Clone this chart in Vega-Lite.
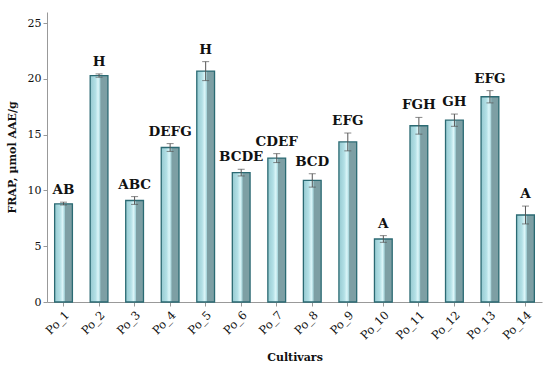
{
  "$schema": "https://vega.github.io/schema/vega-lite/v6.json",
  "width": 495,
  "height": 290,
  "autosize": "none",
  "padding": {"left": 47, "top": 12, "right": 8, "bottom": 69},
  "background": "white",
  "config": {"view": {"stroke": null}, "font": "DejaVu Serif"},
  "data": {
    "values": [
      {"cultivar": "Po_1", "frap": 8.8, "lo": 8.7, "hi": 8.95, "group": "AB"},
      {"cultivar": "Po_2", "frap": 20.3, "lo": 20.15, "hi": 20.45, "group": "H"},
      {"cultivar": "Po_3", "frap": 9.1, "lo": 8.75, "hi": 9.45, "group": "ABC"},
      {"cultivar": "Po_4", "frap": 13.85, "lo": 13.5, "hi": 14.2, "group": "DEFG"},
      {"cultivar": "Po_5", "frap": 20.7, "lo": 19.85, "hi": 21.55, "group": "H"},
      {"cultivar": "Po_6", "frap": 11.6, "lo": 11.3, "hi": 11.9, "group": "BCDE"},
      {"cultivar": "Po_7", "frap": 12.9, "lo": 12.5, "hi": 13.3, "group": "CDEF"},
      {"cultivar": "Po_8", "frap": 10.9, "lo": 10.3, "hi": 11.5, "group": "BCD"},
      {"cultivar": "Po_9", "frap": 14.35, "lo": 13.55, "hi": 15.15, "group": "EFG"},
      {"cultivar": "Po_10", "frap": 5.65, "lo": 5.35, "hi": 5.95, "group": "A"},
      {"cultivar": "Po_11", "frap": 15.8, "lo": 15.05, "hi": 16.55, "group": "FGH"},
      {"cultivar": "Po_12", "frap": 16.3, "lo": 15.75, "hi": 16.85, "group": "GH"},
      {"cultivar": "Po_13", "frap": 18.4, "lo": 17.85, "hi": 18.95, "group": "EFG"},
      {"cultivar": "Po_14", "frap": 7.8, "lo": 7.0, "hi": 8.6, "group": "A"}
    ]
  },
  "encoding": {
    "x": {
      "field": "cultivar",
      "type": "nominal",
      "sort": null,
      "scale": {"paddingInner": 0.5, "paddingOuter": 0.215},
      "axis": {
        "title": "Cultivars",
        "titleFont": "DejaVu Serif",
        "titleFontWeight": "bold",
        "titleFontSize": 11,
        "titleColor": "#111",
        "titlePadding": 10,
        "labelAngle": -45,
        "labelFont": "DejaVu Serif",
        "labelFontSize": 11.5,
        "labelColor": "#111",
        "labelPadding": 3,
        "domainColor": "#999",
        "tickColor": "#999",
        "tickSize": 4
      }
    }
  },
  "layer": [
    {
      "mark": {
        "type": "bar",
        "stroke": "#2b6a73",
        "strokeWidth": 1.3,
        "color": {
          "gradient": "linear",
          "x1": 0, "x2": 1, "y1": 0, "y2": 0,
          "stops": [
            {"offset": 0, "color": "#96cad1"},
            {"offset": 0.3, "color": "#b3e0e6"},
            {"offset": 0.45, "color": "#dcf6f9"},
            {"offset": 0.55, "color": "#a9d6dc"},
            {"offset": 0.6, "color": "#7d9fa4"},
            {"offset": 1, "color": "#7d9fa4"}
          ]
        }
      },
      "encoding": {
        "y": {
          "field": "frap",
          "type": "quantitative",
          "scale": {"domain": [0, 25]},
          "axis": {
            "title": "FRAP, µmol AAE/g",
            "titleFont": "DejaVu Serif",
            "titleFontWeight": "bold",
            "titleFontSize": 11,
            "titleColor": "#111",
            "titlePadding": 10,
            "values": [0, 5, 10, 15, 20, 25],
            "grid": false,
            "labelFont": "DejaVu Serif",
            "labelFontSize": 11,
            "labelColor": "#111",
            "domainColor": "#999",
            "tickColor": "#999",
            "tickSize": 4
          }
        }
      }
    },
    {
      "mark": {"type": "rule", "color": "#555", "strokeWidth": 1},
      "encoding": {
        "y": {"field": "lo", "type": "quantitative"},
        "y2": {"field": "hi"}
      }
    },
    {
      "mark": {"type": "tick", "color": "#555", "size": 7, "thickness": 1},
      "encoding": {"y": {"field": "lo", "type": "quantitative"}}
    },
    {
      "mark": {"type": "tick", "color": "#555", "size": 7, "thickness": 1},
      "encoding": {"y": {"field": "hi", "type": "quantitative"}}
    },
    {
      "mark": {
        "type": "text",
        "font": "DejaVu Serif",
        "fontWeight": "bold",
        "fontSize": 13.5,
        "color": "#111",
        "baseline": "bottom",
        "dy": -5
      },
      "encoding": {
        "y": {"field": "hi", "type": "quantitative"},
        "text": {"field": "group"}
      }
    }
  ]
}
